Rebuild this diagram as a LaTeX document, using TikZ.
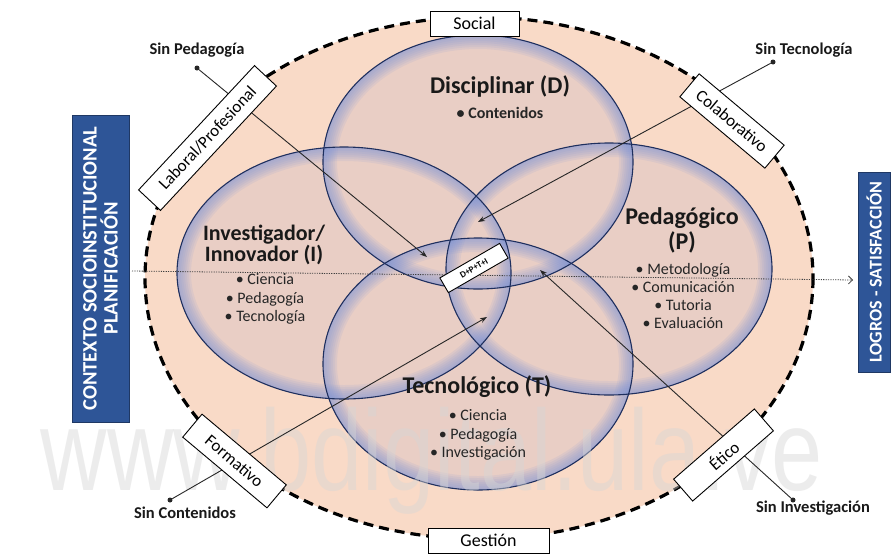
\documentclass[tikz,border=0pt]{standalone}
\usepackage{fontspec}
\setmainfont{Carlito}
\newfontfamily\wmfont{Liberation Sans}
\usetikzlibrary{arrows.meta}
\definecolor{peach}{HTML}{F9DAC7}
\definecolor{innerc}{HTML}{E9CEC5}
\definecolor{glowc}{HTML}{7A92D8}
\definecolor{edgec}{HTML}{1E2F5E}
\definecolor{boxblue}{HTML}{2E5597}
\definecolor{boxedge}{HTML}{1F3864}
\definecolor{wmc}{HTML}{D6D6D6}
\newcommand\glowell[4]{%
  \begin{scope}
    \clip (#1,#2) ellipse [x radius=#3, y radius=#4];
    \foreach \w in {28,24,...,4}{%
      \draw[glowc, line width=\w pt, opacity=.11] (#1,#2) ellipse [x radius=#3, y radius=#4];
    }
  \end{scope}}
\tikzset{
  tagbox/.style={draw, fill=white, line width=0.9pt, inner sep=0pt, font=\fontsize{17}{18}\selectfont},
  bluebox/.style={draw=boxedge, fill=boxblue, line width=1pt, text=white, align=center, inner sep=0pt,
     font=\bfseries\fontsize{20.5}{21}\selectfont},
  title/.style={font=\bfseries\fontsize{24}{25}\selectfont, align=center, text=black!90},
  items/.style={font=\fontsize{16}{18.3}\selectfont, align=center, text=black!85},
  outlbl/.style={font=\bfseries\fontsize{16.5}{18}\selectfont, text=black!90},
  dotn/.style={circle, fill=black!85, inner sep=0pt, minimum size=5pt},
  conn/.style={draw=black!85, line width=0.9pt, -{Stealth[length=7pt,width=5pt]}},
  ellout/.style={draw=edgec, line width=1.1pt}
}
\begin{document}
\begin{tikzpicture}[x=1pt,y=-1pt]
\useasboundingbox (0,0) rectangle (891,555);
\fill[white] (0,0) rectangle (891,555);
% outer context ellipse
\fill[peach] (479,278) ellipse [x radius=334, y radius=261];
\draw[line width=3.2pt, dash pattern=on 10pt off 6pt] (479,278) ellipse [x radius=334, y radius=261];
% four ellipses: fill
\fill[innerc] (478,162) ellipse [x radius=155, y radius=127];
\fill[innerc] (344,273) ellipse [x radius=167, y radius=126];
\fill[innerc] (609,269) ellipse [x radius=163, y radius=126];
\fill[innerc] (478,364) ellipse [x radius=155, y radius=126];
% glows
\glowell{478}{162}{155}{127}
\glowell{344}{273}{167}{126}
\glowell{609}{269}{163}{126}
\glowell{478}{364}{155}{126}
% outlines
\draw[ellout] (478,162) ellipse [x radius=155, y radius=127];
\draw[ellout] (344,273) ellipse [x radius=167, y radius=126];
\draw[ellout] (609,269) ellipse [x radius=163, y radius=126];
\draw[ellout] (478,364) ellipse [x radius=155, y radius=126];

% watermark (light, behind the drawing's texts)
\node[font=\wmfont\fontsize{115}{115}\selectfont, text=wmc, opacity=.45, xscale=.8, anchor=base] (wm) at (432,490) {www.bdigital.ula.ve};

% side blue boxes
\node[bluebox, rotate=90, minimum width=307pt, minimum height=57pt] (ctx) at (100.5,268.5)
  {CONTEXTO SOCIOINSTITUCIONAL\\PLANIFICACIÓN};
\node[bluebox, rotate=90, minimum width=200pt, minimum height=32pt, font=\bfseries\fontsize{18}{19}\selectfont] (logros) at (874,272)
  {LOGROS - SATISFACCIÓN};

% horizontal dotted line
\coordinate (hl) at (132,271);
\coordinate (hr) at (853,280);
\draw[black!75, line width=0.8pt, dash pattern=on 1.2pt off 1.2pt, -{Straight Barb[length=4pt,width=8pt]}] (hl) -- (hr);

% connector end points (arrow tips)
\coordinate (tSP) at (427,257);
\coordinate (tST) at (478,222);
\coordinate (tSC) at (487,317);
\coordinate (tSI) at (540,270);

% outside labels and dots
\node[outlbl] (lSP) at (197,50) {Sin Pedagogía};
\node[outlbl] (lST) at (804,50) {Sin Tecnología};
\node[outlbl] (lSC) at (185,513) {Sin Contenidos};
\node[outlbl] (lSI) at (813,508) {Sin Investigación};
\node[dotn] (dSP) at (197,68) {};
\node[dotn] (dST) at (773,62) {};
\node[dotn] (dSC) at (170,500) {};
\node[dotn] (dSI) at (793,500) {};

\draw[conn] (dSP) -- (tSP);
\draw[conn] (dST) -- (tST);
\draw[conn] (dSC) -- (tSC);
\draw[conn] (dSI) -- (tSI);

% tag boxes on the dashed border
\node[tagbox, minimum width=89pt, minimum height=25pt, font=\fontsize{18}{19}\selectfont] (soc) at (474.5,23.5) {Social};
\node[tagbox, minimum width=121pt, minimum height=25pt, font=\fontsize{18}{19}\selectfont] (ges) at (488.5,540.5) {Gestión};
\node[tagbox, rotate=47, minimum width=170pt, minimum height=30pt] (lab) at (207.5,138) {Laboral/Profesional};
\node[tagbox, rotate=-40, minimum width=111pt, minimum height=30pt] (col) at (732,121) {Colaborativo};
\node[tagbox, rotate=-40, minimum width=110pt, minimum height=30pt] (for) at (234.5,461) {Formativo};
\node[tagbox, rotate=41, minimum width=107pt, minimum height=29pt] (eti) at (723.5,455) {Ético};

% center box
\node[draw, fill=white, line width=0.9pt, rotate=30, minimum width=69pt, minimum height=17pt, inner sep=0pt,
      font=\bfseries\fontsize{9}{10}\selectfont] (core) at (474,268) {D+P+T+I};

% titles and items
\node[title] (tD) at (500,86) {Disciplinar (D)};
\node[items, font=\bfseries\fontsize{16}{18}\selectfont] (iD) at (500,113) {• Contenidos};
\node[title, font=\bfseries\fontsize{22}{21.5}\selectfont] (tI) at (264,245) {Investigador/\\Innovador (I)};
\node[items] (iI) at (265,299) {• Ciencia\\• Pedagogía\\• Tecnología};
\node[title, font=\bfseries\fontsize{24}{25}\selectfont] (tP) at (682,230.5) {Pedagógico\\(P)};
\node[items] (iP) at (683,296) {• Metodología\\• Comunicación\\• Tutoria\\• Evaluación};
\node[title] (tT) at (477,387) {Tecnológico (T)};
\node[items] (iT) at (478,435) {• Ciencia\\• Pedagogía\\• Investigación};
\end{tikzpicture}
\end{document}
